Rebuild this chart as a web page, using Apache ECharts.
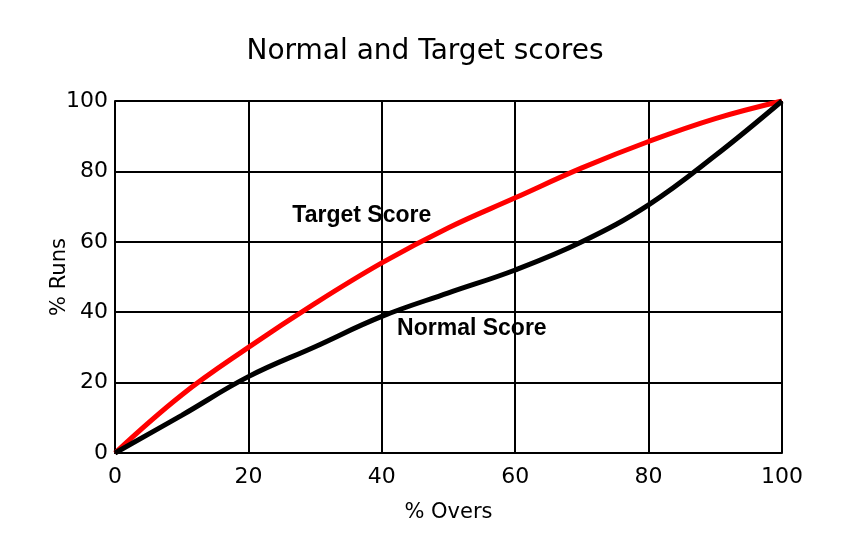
<!DOCTYPE html>
<html>
<head>
<meta charset="utf-8">
<script src="https://cdn.jsdelivr.net/npm/echarts@6/dist/echarts.min.js"></script>
<style>
  html, body { margin: 0; padding: 0; background: #fff; }
  #chart { width: 850px; height: 533px; }
</style>
</head>
<body>
<div id="chart"></div>
<script>
  // % overs on x, % runs on y
  var overs = [0, 10, 20, 30, 40, 50, 60, 70, 80, 90, 100]
  var targetRuns = [0, 16.5, 30, 42.5, 54, 64, 72.5, 81, 88.5, 95, 100]
  var normalRuns = [0, 10.7, 21.7, 30.2, 38.8, 45.5, 52, 60, 70.5, 84.5, 100]
  var axisTicks = [0, 20, 40, 60, 80, 100]
  var labelTarget = [37, 67.5]
  var labelNormal = [53.5, 35.3]

  function pairs(xs, ys) {
    let out = []
    for (let i = 0; i < xs.length; i++) out.push([xs[i], ys[i]])
    return out
  }

  let font = 'DejaVu Sans'
  let axisCommon = {
    type: 'value',
    min: axisTicks[0],
    max: axisTicks[axisTicks.length - 1],
    interval: 20,
    axisLine: { show: true, lineStyle: { color: '#000', width: 2 } },
    axisTick: { show: false },
    splitLine: { show: true, lineStyle: { color: '#000', width: 2 } },
    axisLabel: { color: '#000', fontFamily: font, fontSize: 22 },
    nameTextStyle: { color: '#000', fontFamily: font, fontSize: 21 }
  }

  function textMark(text, coord) {
    return {
      symbol: 'circle',
      symbolSize: 1,
      itemStyle: { color: 'rgba(0,0,0,0)' },
      label: {
        show: true, position: 'inside', formatter: text, color: '#000',
        fontFamily: 'Liberation Sans', fontWeight: 'bold', fontSize: 23
      },
      data: [{ coord: coord }]
    }
  }

  let option = {
    animation: false,
    title: {
      text: 'Normal and Target scores',
      left: 'center',
      top: 33,
      textStyle: { color: '#000', fontFamily: font, fontSize: 28, fontWeight: 'normal' }
    },
    grid: { left: 115, right: 68, top: 101, bottom: 80 },
    xAxis: Object.assign({}, axisCommon, {
      name: '% Overs',
      nameLocation: 'middle',
      nameGap: 49,
      axisLabel: Object.assign({}, axisCommon.axisLabel, { margin: 13 })
    }),
    yAxis: Object.assign({}, axisCommon, {
      name: '% Runs',
      nameLocation: 'middle',
      nameGap: 45,
      nameMoveOverlap: false,
      axisLabel: Object.assign({}, axisCommon.axisLabel, { margin: 7 })
    }),
    series: [{
      name: 'Target Score',
      type: 'line',
      smooth: 0.4,
      symbol: 'none',
      lineStyle: { color: '#f00', width: 5 },
      data: pairs(overs, targetRuns),
      markPoint: textMark('Target Score', labelTarget)
    }, {
      name: 'Normal Score',
      type: 'line',
      smooth: 0.4,
      symbol: 'none',
      lineStyle: { color: '#000', width: 5 },
      data: pairs(overs, normalRuns),
      markPoint: textMark('Normal Score', labelNormal)
    }]
  }
  let myChart = echarts.init(document.getElementById('chart'))
  myChart.setOption(option)
</script>
</body>
</html>
